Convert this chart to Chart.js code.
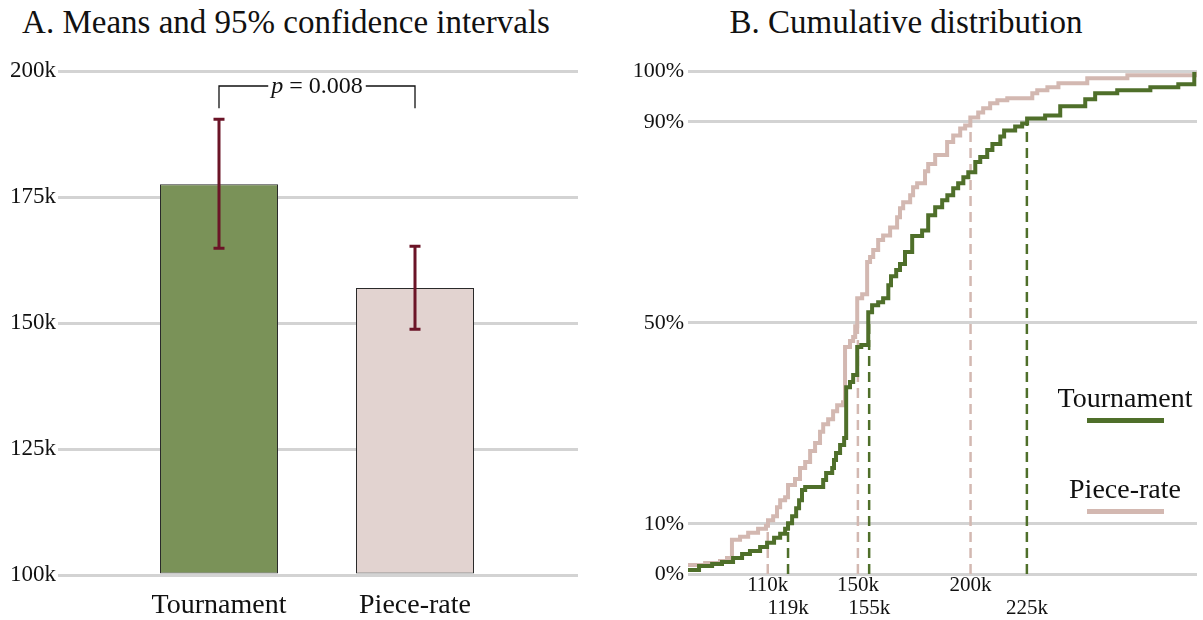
<!DOCTYPE html>
<html><head><meta charset="utf-8">
<script src="https://cdn.jsdelivr.net/npm/chart.js@4.4.1/dist/chart.umd.min.js"></script>
<style>
html,body{margin:0;padding:0;background:#fff;width:1203px;height:620px;overflow:hidden;font-family:"Liberation Serif","Times New Roman",serif;}
.title{position:absolute;top:0;font-size:33px;line-height:44px;color:#111;white-space:nowrap;transform:translateX(-50%);}
#wrapA{position:absolute;left:0;top:0;width:600px;height:620px;}
#wrapB{position:absolute;left:600px;top:0;width:603px;height:620px;}
</style></head><body>
<div class="title" style="left:286px">A. Means and 95% confidence intervals</div>
<div class="title" style="left:906px">B. Cumulative distribution</div>
<div id="wrapA"><canvas id="cA" width="600" height="620"></canvas></div>
<div id="wrapB"><canvas id="cB" width="603" height="620"></canvas></div>
<script>
// ---------- Panel A data ----------
const groups = ['Tournament', 'Piece-rate'];
const groupPos = [1, 2];
const means = [177.6, 157.0];
const ciLow = [164.9, 148.8];
const ciHigh = [190.5, 165.3];
const meanTicks = [100, 125, 150, 175, 200];
const pValueText = '0.008';
const bracketLevels = [192.7, 197.1];

// ---------- Panel B data ----------
const tournamentX = [74.6,79.5,85.3,89.7,94.6,98.6,102.1,106.6,109.7,112.8,115.5,117.7,119.0,120.8,122.6,123.9,125.2,126.6,134.6,135.9,138.6,139.4,140.3,142.1,143.9,144.8,146.5,147.9,149.7,151.5,154.6,156.3,159.0,161.2,163.5,164.7,167.0,168.7,170.9,174.1,178.5,181.2,184.3,187.4,189.7,192.3,194.5,196.8,199.0,202.1,204.3,207.4,209.7,213.2,214.9,219.8,222.9,225.1,233.1,239.8,250.9,255.3,265.1,279.8,292.2,299.3];
const tournamentPct = [0.8,1.6,2.0,2.4,3.2,4.0,4.6,5.4,6.2,7.2,8.0,9.0,10.1,11.5,13.1,14.7,16.7,17.3,18.7,20.1,21.1,22.7,24.1,25.7,27.1,37.2,38.2,39.6,45.2,45.6,52.1,53.5,54.1,54.9,57.5,59.3,60.5,61.7,64.1,67.3,68.4,71.4,73.0,74.4,75.4,76.8,77.8,79.0,80.0,82.0,83.0,84.4,85.6,87.1,88.3,89.1,89.7,90.7,91.3,93.1,94.5,95.7,96.3,96.9,97.5,100];
const pieceRateX = [74.6,82.2,88.8,91.9,94.1,97.7,101.3,105.7,109.2,110.1,112.4,114.1,115.5,117.7,119.0,122.1,124.3,126.6,128.8,131.0,133.2,134.6,136.8,139.0,140.8,143.4,144.3,146.5,147.9,148.8,149.7,151.9,154.1,155.4,156.8,159.0,161.2,164.3,167.4,168.7,170.1,173.2,174.5,176.3,179.8,181.2,184.3,189.6,192.3,195.4,197.6,199.9,203.4,205.6,208.7,211.9,216.3,227.4,229.6,234.1,239.0,251.8,269.6,299.8];
const pieceRatePct = [1.8,2.2,2.6,3.2,6.8,7.4,8.2,9.0,9.6,10.7,11.5,13.3,14.7,15.3,17.7,18.9,21.1,22.3,24.5,26.1,28.3,29.8,30.8,32.4,33.6,34.2,45.2,46.4,47.2,49.3,54.9,55.7,62.1,63.1,64.5,66.5,67.4,69.0,71.0,72.8,74.0,75.4,77.0,77.8,80.2,81.6,83.4,86.0,87.3,88.7,89.3,90.9,91.9,92.7,93.7,94.3,94.7,95.7,96.3,96.9,97.7,98.7,99.3,100];
const quantileLevels = [10, 50, 90];
const tournamentQuantiles = [119, 155, 225];
const pieceRateQuantiles = [110, 150, 200];
const cdfTicksY = [0, 10, 50, 90, 100];
const seriesNames = ['Tournament', 'Piece-rate'];

// ---------- styles ----------
const FONT = '"Liberation Serif", "Times New Roman", serif';
const TXT = '#111111';
const GRID = '#d3d3d3';
const GREEN_BAR = '#7a9258', PINK_BAR = '#e2d3d0';
const GREEN_LINE = '#4f6f2a', PINK_LINE = '#d3b8b1';
const CI_COLOR = '#6b1427';

Chart.defaults.font.family = FONT;
Chart.defaults.color = TXT;

// ---------- Panel A ----------
const panelAPlugin = {
  id: 'ciAndBracket',
  afterDatasetsDraw(chart) {
    const {ctx, scales: {x, y}} = chart;
    ctx.save();
    ctx.strokeStyle = CI_COLOR;
    ctx.lineWidth = 3;
    ctx.lineCap = 'butt';
    groupPos.forEach((g, i) => {
      const px = x.getPixelForValue(g);
      const y1 = y.getPixelForValue(ciLow[i]);
      const y2 = y.getPixelForValue(ciHigh[i]);
      ctx.beginPath();
      ctx.moveTo(px, y1); ctx.lineTo(px, y2);
      ctx.moveTo(px - 5.5, y1); ctx.lineTo(px + 5.5, y1);
      ctx.moveTo(px - 5.5, y2); ctx.lineTo(px + 5.5, y2);
      ctx.stroke();
    });
    // p-value bracket
    const xl = x.getPixelForValue(groupPos[0]);
    const xr = x.getPixelForValue(groupPos[1]);
    const yLow = y.getPixelForValue(bracketLevels[0]);
    const yTop = y.getPixelForValue(bracketLevels[1]);
    const mid = (xl + xr) / 2;
    ctx.font = 'italic 24px ' + FONT;
    const wp = ctx.measureText('p').width;
    ctx.font = '24px ' + FONT;
    const rest = ' = ' + pValueText;
    const wr = ctx.measureText(rest).width;
    const tw = wp + wr;
    const tx0 = mid - tw / 2;
    ctx.strokeStyle = '#111';
    ctx.lineWidth = 1.3;
    ctx.beginPath();
    ctx.moveTo(xl, yLow); ctx.lineTo(xl, yTop); ctx.lineTo(tx0 - 3, yTop);
    ctx.moveTo(tx0 + tw + 3, yTop); ctx.lineTo(xr, yTop); ctx.lineTo(xr, yLow);
    ctx.stroke();
    ctx.fillStyle = TXT;
    ctx.textBaseline = 'middle';
    ctx.textAlign = 'left';
    ctx.font = 'italic 24px ' + FONT;
    ctx.fillText('p', tx0, yTop + 1);
    ctx.font = '24px ' + FONT;
    ctx.fillText(rest, tx0 + wp, yTop + 1);
    ctx.restore();
  }
};

new Chart(document.getElementById('cA'), {
  type: 'bar',
  data: {
    datasets: [{
      data: groupPos.map((g, i) => ({x: g, y: means[i]})),
      backgroundColor: [GREEN_BAR, PINK_BAR],
      borderColor: '#2a2a2a',
      borderWidth: 1,
      borderSkipped: false,
      base: meanTicks[0],
      categoryPercentage: 1,
      barPercentage: 0.602
    }]
  },
  options: {
    responsive: false,
    animation: false,
    events: [],
    layout: {padding: {top: 71.4, right: 22, bottom: 0, left: 0}},
    plugins: {legend: {display: false}, tooltip: {enabled: false}, title: {display: false}},
    scales: {
      x: {
        type: 'linear',
        offset: false,
        min: 0.1786, max: 2.8316,
        grid: {display: false, drawTicks: false},
        border: {display: false},
        afterBuildTicks: s => { s.ticks = groupPos.map(v => ({value: v})); },
        afterFit: s => { s.height = 45; },
        ticks: {
          autoSkip: false, maxRotation: 0,
          font: {size: 28, family: FONT, lineHeight: 1.2},
          color: TXT, padding: 14,
          callback: v => groups[groupPos.indexOf(v)]
        }
      },
      y: {
        min: meanTicks[0], max: meanTicks[meanTicks.length - 1],
        afterBuildTicks: s => { s.ticks = meanTicks.map(v => ({value: v})); },
        afterFit: s => { s.width = 58; },
        grid: {color: GRID, lineWidth: 3, drawTicks: false},
        border: {display: false},
        ticks: {font: {size: 23, family: FONT}, color: TXT, padding: 2, callback: v => v + 'k'}
      }
    }
  },
  plugins: [panelAPlugin]
});

// ---------- Panel B ----------
const toPts = (xs, ys) => xs.map((v, i) => ({x: v, y: ys[i]}));
const dashSets = [];
pieceRateQuantiles.forEach((q, i) => dashSets.push({
  data: [{x: q, y: 0}, {x: q, y: quantileLevels[i]}],
  borderColor: PINK_LINE, borderWidth: 2.5, borderDash: [10, 6], pointRadius: 0, order: 5
}));
tournamentQuantiles.forEach((q, i) => dashSets.push({
  data: [{x: q, y: 0}, {x: q, y: quantileLevels[i]}],
  borderColor: GREEN_LINE, borderWidth: 2.5, borderDash: [10, 6], pointRadius: 0, order: 4
}));

const legendPlugin = {
  id: 'cdfLegend',
  afterDraw(chart) {
    const {ctx} = chart;
    const colors = [GREEN_LINE, PINK_LINE];
    const cx = 525;
    const baselines = [407, 498];
    ctx.save();
    ctx.font = '28px ' + FONT;
    ctx.textAlign = 'center';
    ctx.textBaseline = 'alphabetic';
    seriesNames.forEach((name, i) => {
      ctx.fillStyle = TXT;
      ctx.fillText(name, cx, baselines[i]);
      ctx.strokeStyle = colors[i];
      ctx.lineWidth = 5;
      ctx.beginPath();
      ctx.moveTo(487, baselines[i] + 13.5);
      ctx.lineTo(564, baselines[i] + 13.5);
      ctx.stroke();
    });
    ctx.restore();
  }
};

const xTickVals = [...pieceRateQuantiles, ...tournamentQuantiles].sort((a, b) => a - b);

new Chart(document.getElementById('cB'), {
  type: 'line',
  data: {
    datasets: [
      {label: seriesNames[0], data: toPts(tournamentX, tournamentPct), borderColor: GREEN_LINE, borderWidth: 4, stepped: 'before', pointRadius: 0, order: 1},
      {label: seriesNames[1], data: toPts(pieceRateX, pieceRatePct), borderColor: PINK_LINE, borderWidth: 4, stepped: 'before', pointRadius: 0, order: 2},
      ...dashSets
    ]
  },
  options: {
    responsive: false,
    animation: false,
    events: [],
    layout: {padding: {top: 71.7, right: 6, bottom: 0, left: 0}},
    plugins: {legend: {display: false}, tooltip: {enabled: false}, title: {display: false}},
    scales: {
      x: {
        type: 'linear',
        offset: false,
        min: 74.6, max: 300.5,
        grid: {display: false, drawTicks: false},
        border: {display: false},
        afterBuildTicks: s => { s.ticks = xTickVals.map(v => ({value: v})); },
        afterFit: s => { s.height = 46; },
        ticks: {
          autoSkip: false, maxRotation: 0, padding: 0,
          font: {size: 21, family: FONT, lineHeight: 1.1},
          color: TXT,
          callback: v => pieceRateQuantiles.includes(v) ? v + 'k' : ['', v + 'k']
        }
      },
      y: {
        min: 0, max: 100,
        afterBuildTicks: s => { s.ticks = cdfTicksY.map(v => ({value: v})); },
        afterFit: s => { s.width = 88; },
        grid: {color: GRID, lineWidth: 3, drawTicks: false},
        border: {display: false},
        ticks: {font: {size: 22, family: FONT}, color: TXT, padding: 4, callback: v => v + '%'}
      }
    }
  },
  plugins: [legendPlugin]
});
</script>
</body></html>
